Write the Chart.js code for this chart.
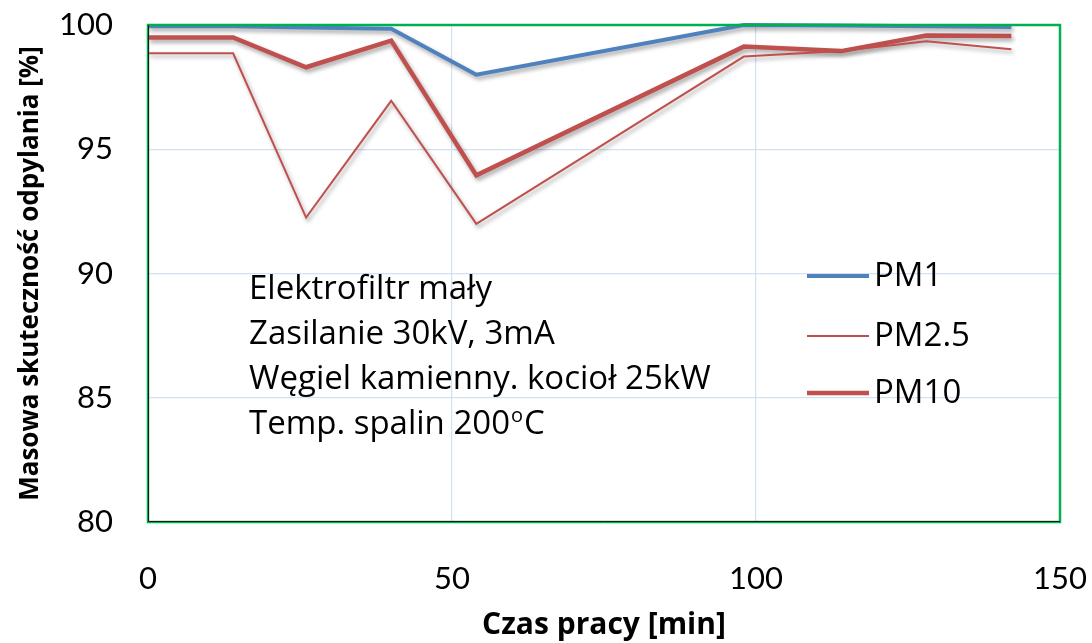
<!DOCTYPE html>
<html>
<head>
<meta charset="utf-8">
<script src="https://cdn.jsdelivr.net/npm/chart.js@4/dist/chart.umd.min.js"></script>
<style>
  html, body { margin: 0; padding: 0; background: #fff; }
  #wrap { width: 1092px; height: 643px; }
</style>
</head>
<body>
<div id="wrap"><canvas id="wykres"></canvas></div>
<script>
// dane
const czas = [0, 14, 26, 40, 54, 98, 114, 128, 142];
const pm1 = [99.95, 99.95, 99.9, 99.85, 98.0, 100.0, 99.98, 99.95, 99.92];
const pm25 = [98.86, 98.86, 92.25, 96.95, 92.0, 98.73, 98.95, 99.35, 99.02];
const pm10 = [99.5, 99.5, 98.3, 99.37, 93.95, 99.13, 98.95, 99.58, 99.56];
const xTicks = [0, 50, 100, 150];
const yTicks = [80, 85, 90, 95, 100];
const serie = ['PM1', 'PM2.5', 'PM10'];
const opis = ['Elektrofiltr mały', 'Zasilanie 30kV, 3mA', 'Węgiel kamienny. kocioł 25kW', 'Temp. spalin 200°C'];

const TICKFONT = 'Lato, "Open Sans", sans-serif';
const FONT = '"Open Sans", Lato, sans-serif';
const pts = ys => czas.map((x, i) => ({ x, y: ys[i] }));

// cień pod liniami
const cien = {
  id: 'cien',
  beforeDatasetsDraw(chart) {
    const c = chart.ctx;
    c.save();
    c.shadowColor = 'rgba(0,0,0,0.35)';
    c.shadowBlur = 4;
    c.shadowOffsetX = 2;
    c.shadowOffsetY = 3;
  },
  afterDatasetsDraw(chart) { chart.ctx.restore(); }
};

// ramka obszaru wykresu
const ramka = {
  id: 'ramka',
  afterDatasetsDraw(chart) {
    const { ctx, chartArea: a } = chart;
    ctx.save();
    ctx.strokeStyle = '#00b050';
    ctx.lineWidth = 2.5;
    ctx.strokeRect(a.left, a.top, a.right - a.left, a.bottom - a.top);
    ctx.strokeStyle = '#1a1a1a';
    ctx.lineWidth = 1;
    ctx.beginPath();
    ctx.moveTo(a.left + 0.5, a.top);
    ctx.lineTo(a.left + 0.5, a.bottom - 0.5);
    ctx.lineTo(a.right, a.bottom - 0.5);
    ctx.stroke();
    ctx.restore();
  }
};

// legenda i opis w środku wykresu
const napisy = {
  id: 'napisy',
  afterDraw(chart) {
    const ctx = chart.ctx;
    ctx.save();
    ctx.font = '33px ' + FONT;
    ctx.fillStyle = '#000';
    ctx.textBaseline = 'middle';
    const ly = [276, 336, 393];
    chart.data.datasets.forEach((ds, i) => {
      ctx.strokeStyle = ds.borderColor;
      ctx.lineWidth = ds.borderWidth;
      ctx.beginPath();
      ctx.moveTo(807, ly[i]);
      ctx.lineTo(869, ly[i]);
      ctx.stroke();
      ctx.fillText(ds.label, 874, ly[i] + 1);
    });
    const oy = [290, 335, 380, 425];
    opis.forEach((t, i) => {
      const k = t.indexOf('°');
      if (k < 0) { ctx.fillText(t, 249, oy[i]); return; }
      const a = t.slice(0, k), b = t.slice(k + 1);
      ctx.fillText(a, 249, oy[i]);
      let x = 249 + ctx.measureText(a).width;
      ctx.font = '20px ' + FONT;
      ctx.fillText('o', x + 1, oy[i] - 9);
      x += ctx.measureText('o').width + 2;
      ctx.font = '33px ' + FONT;
      ctx.fillText(b, x, oy[i]);
    });
    ctx.restore();
  }
};

new Chart(document.getElementById('wykres'), {
  type: 'line',
  data: {
    datasets: [
      { label: serie[0], data: pts(pm1), borderColor: '#4f81bd', borderWidth: 4 },
      { label: serie[1], data: pts(pm25), borderColor: '#c0504d', borderWidth: 2 },
      { label: serie[2], data: pts(pm10), borderColor: '#c0504d', borderWidth: 4.5 }
    ]
  },
  options: {
    responsive: true,
    maintainAspectRatio: false,
    animation: false,
    clip: false,
    elements: { point: { radius: 0 }, line: { tension: 0, borderJoinStyle: 'miter' } },
    layout: { padding: { top: 25, right: 32, left: 0, bottom: 0 } },
    plugins: { legend: { display: false }, tooltip: { enabled: false } },
    scales: {
      x: {
        type: 'linear',
        min: xTicks[0], max: xTicks[xTicks.length - 1],
        afterBuildTicks: s => { s.ticks = xTicks.map(v => ({ value: v })); },
        afterFit: s => { s.height = 121; s.paddingLeft = 0; s.paddingRight = 0; },
        grid: { color: '#d3e0f2', lineWidth: 1.2, drawTicks: false },
        border: { display: false },
        ticks: { color: '#000', font: { family: TICKFONT, size: 31 }, padding: 38, maxRotation: 0 },
        title: { display: true, text: 'Czas pracy [min]', color: '#000', font: { family: FONT, size: 30, weight: 'bold' }, padding: { top: 0, bottom: 0 } }
      },
      y: {
        min: yTicks[0], max: yTicks[yTicks.length - 1],
        afterBuildTicks: s => { s.ticks = yTicks.map(v => ({ value: v })); },
        afterFit: s => { s.width = 148; s.paddingTop = 0; s.paddingBottom = 0; },
        grid: { color: '#d3e0f2', lineWidth: 1.2, drawTicks: false },
        border: { display: false },
        ticks: { color: '#000', font: { family: TICKFONT, size: 31 }, padding: 35 },
        title: { display: true, text: 'Masowa skuteczność odpylania [%]', color: '#000', font: { family: FONT, size: 26, weight: 'bold' }, padding: { top: 15, bottom: 0 } }
      }
    }
  },
  plugins: [cien, ramka, napisy]
});
</script>
</body>
</html>
